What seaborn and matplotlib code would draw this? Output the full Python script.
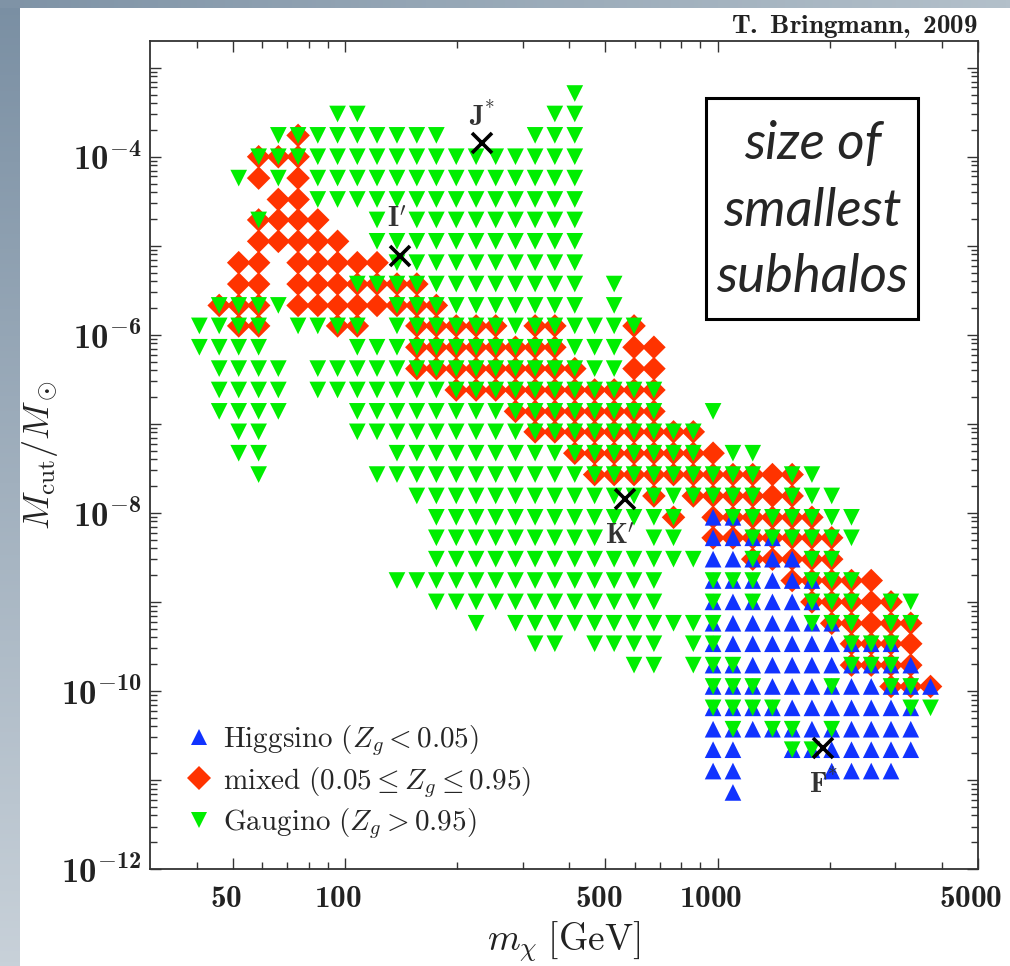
import numpy as np
import pandas as pd
import seaborn as sns
import matplotlib
matplotlib.use("Agg")
import matplotlib.pyplot as plt
from matplotlib.colors import LinearSegmentedColormap
from matplotlib.patches import Rectangle
from matplotlib.ticker import LogLocator, NullFormatter
from matplotlib.transforms import ScaledTranslation

# ---------------- data ----------------
# neutralino masses of the scan columns [GeV]
MASS = [40.7, 46.0, 51.9, 58.7, 66.3, 74.9, 84.6, 95.6, 108, 122,
        138, 156, 176, 199, 225, 254, 287, 324, 366, 414,
        468, 528, 597, 675, 762, 861, 973, 1100, 1243, 1404,
        1586, 1792, 2025, 2288, 2585, 2921, 3300, 3729]

# log10(M_cut / M_sun) of the scan rows, top to bottom
LOG_MCUT = [-3.29, -3.52, -3.76, -4.00, -4.24, -4.48, -4.71, -4.95, -5.19, -5.43,
            -5.67, -5.90, -6.14, -6.38, -6.62, -6.86, -7.09, -7.33, -7.57, -7.81,
            -8.05, -8.28, -8.52, -8.76, -9.00, -9.24, -9.47, -9.71, -9.95, -10.19,
            -10.43, -10.66, -10.90, -11.14]

# occupancy maps: one string per row, one char per mass column ('#' = model found)
GAUGINO_MAP = [
    ".......... .........# .......... ........",
    ".......##. ........## .......... ........",
    "....###### ###....### .......... ........",
    "...####### ########## .......... ........",
    "..#.#.#### ########## .......... ........",
    "......#### ########## .......... ........",
    "...#.....# .######### .......... ........",
    ".........# ########## .......... ........",
    ".......... ########## .......... ........",
    "........## ########## .#........ ........",
    ".####..... ########## .#........ ........",
    "####.####. ########## ###....... ........",
    "####....## ########## ##........ ........",
    ".####.#### ########## ##........ ........",
    ".####.#### ########## ####...... ........",
    ".####...## ########## ####..#... ........",
    "..##....## ########## ######.... ........",
    "..##...... ########## ######.##. ........",
    "...#.....# ########## #########. ##......",
    ".......... .######### #########. ###.....",
    ".......... ..######## #####..### ####....",
    ".......... ..######## #..##...## ####....",
    ".......... ..######## ######..#. .##.....",
    ".......... ########## ####..###. .###....",
    ".......... ..######## ####..#.#. .###.##.",
    ".......... ....#.#### #######... .###.##.",
    ".......... .......##. ####.##... ...###..",
    ".......... .......... ..##.###.. ...###..",
    ".......... .......... ......###. ..#..##.",
    ".......... .......... ......#### ......##",
    ".......... .......... .......#.# #.#.....",
    ".......... .......... .......... ##......",
    ".......... .......... .......... ........",
    ".......... .......... .......... ........",
]

MIXED_MAP = [
    ".......... .......... .......... ........",
    ".......... .......... .......... ........",
    ".....#.... .......... .......... ........",
    "...###.... .......... .......... ........",
    "...#.#.... .......... .......... ........",
    "....##.... .......... .......... ........",
    "...####... .......... .......... ........",
    "...#####.. .......... .......... ........",
    "..##.##### .......... .......... ........",
    "..##.##### ##........ .......... ........",
    ".###.##### ###....... .......... ........",
    "..##...##. .#####.##. ..#....... ........",
    ".......... .########. ..##...... ........",
    ".......... .######### ..##...... ........",
    ".......... ...####### ####...... ........",
    ".......... ......#### ####...... ........",
    ".......... .......### ######.... ........",
    ".......... .........# #######... ........",
    ".......... .......... ########## #.......",
    ".......... .......... ...#.##### #.......",
    ".......... .......... ....#.#### ##......",
    ".......... .......... ......#### ###.....",
    ".......... .......... ........## ###.....",
    ".......... .......... .......... #####...",
    ".......... .......... .......... .#####..",
    ".......... .......... .......... ..#####.",
    ".......... .......... .......... ...####.",
    ".......... .......... .......... ...####.",
    ".......... .......... .......... .....###",
    ".......... .......... .......... ........",
    ".......... .......... .......... ........",
    ".......... .......... .......... ........",
    ".......... .......... .......... ........",
    ".......... .......... .......... ........",
]

HIGGSINO_MAP = [
    ".......... .......... .......... ........",
    ".......... .......... .......... ........",
    ".......... .......... .......... ........",
    ".......... .......... .......... ........",
    ".......... .......... .......... ........",
    ".......... .......... .......... ........",
    ".......... .......... .......... ........",
    ".......... .......... .......... ........",
    ".......... .......... .......... ........",
    ".......... .......... .......... ........",
    ".......... .......... .......... ........",
    ".......... .......... .......... ........",
    ".......... .......... .......... ........",
    ".......... .......... .......... ........",
    ".......... .......... .......... ........",
    ".......... .......... .......... ........",
    ".......... .......... .......... ........",
    ".......... .......... .......... ........",
    ".......... .......... .......... ........",
    ".......... .......... .......... ........",
    ".......... .......... ......##.. ........",
    ".......... .......... ......#### ........",
    ".......... .......... ......#### #.......",
    ".......... .......... ......#### ##......",
    ".......... .......... ......#### ##......",
    ".......... .......... ......#### ###.....",
    ".......... .......... ......#### ######..",
    ".......... .......... ......#### #######.",
    ".......... .......... ......#### ########",
    ".......... .......... ......#### #######.",
    ".......... .......... ......#### #######.",
    ".......... .......... ......##.. #######.",
    ".......... .......... ......##.. ..####..",
    ".......... .......... .......#.. ........",
]

# benchmark models (black crosses)
BENCH_LABELS = [r"$\mathbf{J}^{*}$", r"$\mathbf{I}'$", r"$\mathbf{K}'$", r"$\mathbf{F}^{*}$"]
BENCH_MASS = [233, 141, 566, 1923]
BENCH_MCUT = [1.41e-4, 7.7e-6, 1.43e-8, 2.31e-11]

ORDER = ["Higgsino", "mixed", "Gaugino"]
LEGEND_TEXT = [r"$\mathrm{Higgsino}\ (Z_g < 0.05)$",
               r"$\mathrm{mixed}\ (0.05 \leq Z_g \leq 0.95)$",
               r"$\mathrm{Gaugino}\ (Z_g > 0.95)$"]

# ---------------- build table (mixed first, gaugino on top) ----------------
rows = []
for name, grid in [("mixed", MIXED_MAP), ("Higgsino", HIGGSINO_MAP), ("Gaugino", GAUGINO_MAP)]:
    for lm, line in zip(LOG_MCUT, grid):
        for mass, c in zip(MASS, line.replace(" ", "")):
            if c == "#":
                rows.append((mass, 10.0 ** lm, name))
df = pd.DataFrame(rows, columns=["m", "mcut", "type"])

# ---------------- style ----------------
sns.set_theme(style="ticks")
plt.rcParams["font.family"] = ["DejaVu Serif"]
plt.rcParams["mathtext.fontset"] = "cm"
# "custom" math set = Computer Modern with a real bold face for digits
plt.rcParams["mathtext.rm"] = "cmr10"
plt.rcParams["mathtext.it"] = "cmmi10"
plt.rcParams["mathtext.bf"] = "cmb10"
plt.rcParams["mathtext.sf"] = "cmss10"
plt.rcParams["mathtext.tt"] = "cmtt10"
plt.rcParams["mathtext.cal"] = "cmsy10"

colors = {"Higgsino": "#1133ff", "mixed": "#ff3300", "Gaugino": "#00ee00"}
markers = {"Higgsino": "^", "mixed": "D", "Gaugino": "v"}

fig = plt.figure(figsize=(10.1, 9.66), dpi=100)
fig.patch.set_facecolor("white")

# slide-like gradient strips on the left and top
side = fig.add_axes([0, 0, 20 / 1010, 1], zorder=-5)
side.imshow(np.linspace(0, 1, 256)[:, None], aspect="auto",
            cmap=LinearSegmentedColormap.from_list("side", ["#7a8fa3", "#c8d1d9"]))
side.set_axis_off()
top = fig.add_axes([0, 1 - 8 / 966, 1, 8 / 966], zorder=-5)
top.imshow(np.linspace(0, 1, 256)[None, :], aspect="auto",
           cmap=LinearSegmentedColormap.from_list("top", ["#7f93a6", "#b3c0ca"]))
top.set_axis_off()

ax = fig.add_axes([150 / 1010, 1 - 869 / 966, 828 / 1010, 828 / 966])
ax.set_xscale("log")
ax.set_yscale("log")

sns.scatterplot(data=df, x="m", y="mcut", hue="type", style="type",
                hue_order=ORDER, style_order=ORDER, palette=colors, markers=markers,
                s=144, linewidth=0, ax=ax, zorder=3)

# benchmark crosses + labels
ax.plot(BENCH_MASS, BENCH_MCUT, ls="none", marker="x", ms=15, mew=2.6, color="black", zorder=5)
offsets = [(0, 19), (-3, 26), (-4, -27), (0, -26)]
for lab, xm, ym, off in zip(BENCH_LABELS, BENCH_MASS, BENCH_MCUT, offsets):
    t = ax.annotate(lab, (xm, ym), xytext=off, textcoords="offset points",
                    ha="center", va="center", fontsize=20, color="#333333", zorder=6)
    t.set_math_fontfamily("custom")

# axes ranges and ticks
ax.set_xlim(30, 5000)
ax.set_ylim(1e-12, 10 ** -2.7)
ax.set_xticks([50, 100, 500, 1000, 5000])
ax.set_xticklabels([r"$\mathbf{%d}$" % v for v in [50, 100, 500, 1000, 5000]])
ax.set_xticks([40, 60, 70, 80, 90, 200, 300, 400, 600, 700, 800, 900, 2000, 3000, 4000], minor=True)
ax.xaxis.set_minor_formatter(NullFormatter())
exps = list(range(-12, -2))
ax.set_yticks([10.0 ** e for e in exps])
ax.set_yticklabels([r"$\mathbf{10^{%d}}$" % e if e % 2 == 0 else "" for e in exps])
ax.yaxis.set_minor_locator(LogLocator(base=10, subs=np.arange(2, 10), numticks=60))
ax.yaxis.set_minor_formatter(NullFormatter())

ax.tick_params(which="both", direction="in", top=True, right=True,
               color="#333333", labelcolor="#222222", width=1.0)
ax.tick_params(axis="x", labelsize=22.5, pad=10)
ax.tick_params(axis="y", labelsize=25, pad=6)
ax.tick_params(which="major", length=8)
ax.tick_params(which="minor", length=4.8)

# bold CM digits; x labels sit a few pixels left of their ticks as in the original
shift = ScaledTranslation(-7 / 100, 0, fig.dpi_scale_trans)
for lab in ax.get_xticklabels():
    lab.set_math_fontfamily("custom")
    lab.set_transform(lab.get_transform() + shift)
for lab in ax.get_yticklabels():
    lab.set_math_fontfamily("custom")

for sp in ax.spines.values():
    sp.set_linewidth(1.3)
    sp.set_color("#333333")

ax.set_xlabel(r"$m_\chi\;[\mathrm{GeV}]$", fontsize=27, color="#222222", labelpad=4)
ax.set_ylabel(r"$M_\mathrm{cut}/M_\odot$", fontsize=26, color="#222222", labelpad=1)

# legend rebuilt from seaborn's handles
leg = ax.get_legend()
handles = list(leg.legend_handles)
leg.remove()
for h in handles:
    h.set_markersize(12)
    h.set_markeredgewidth(0)
ax.legend(handles, LEGEND_TEXT, loc="lower left", bbox_to_anchor=(0.027, 0.02),
          frameon=False, fontsize=21, handletextpad=0.35, labelspacing=0.22,
          borderaxespad=0, handlelength=1.0)

# boxed caption
ax.add_patch(Rectangle((0.672, 0.664), 0.256, 0.267, transform=ax.transAxes,
                       fill=False, lw=2.2, ec="black", zorder=6))
ax.text(0.800, 0.795, "size of\nsmallest\nsubhalos", transform=ax.transAxes,
        ha="center", va="center", fontsize=38, style="italic", family="Lato",
        linespacing=1.47, zorder=6)

sig = fig.text(978 / 1010, 1 - 26 / 966, r"$\mathbf{T.\ Bringmann,\ 2009}$",
               ha="right", va="center", fontsize=19.5, color="#222222")
sig.set_math_fontfamily("custom")

fig.savefig("out.png", dpi=100)
